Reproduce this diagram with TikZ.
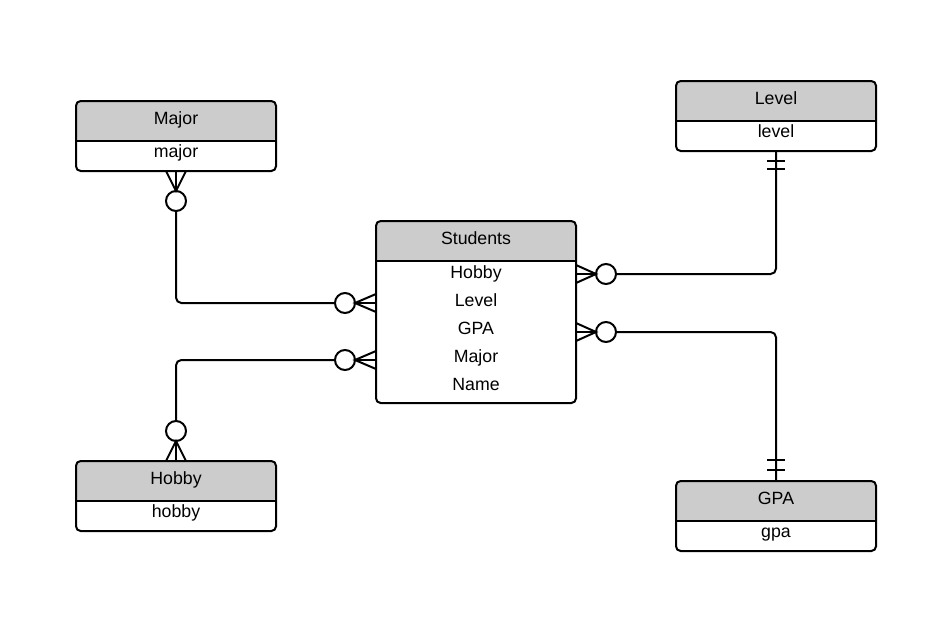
\documentclass[tikz,border=0pt]{standalone}
\usepackage{fontspec}
\setmainfont{Liberation Sans}
\usetikzlibrary{calc}
\definecolor{hdrgray}{HTML}{CCCCCC}
\tikzset{
  entity/.style={draw=black, line width=1.5pt, rounded corners=3.5pt,
    minimum width=150pt, inner sep=0pt, outer sep=0pt, fill=white,
    path picture={
      \fill[hdrgray] (path picture bounding box.north west) rectangle
        ([yshift=-30pt]path picture bounding box.north east);
      \draw[line width=1.5pt] ([yshift=-30pt]path picture bounding box.north west) --
        ([yshift=-30pt]path picture bounding box.north east);
    }},
  small/.style={entity, minimum height=52.5pt},
  txt/.style={anchor=base, inner sep=0pt, font=\fontsize{13.3}{15}\selectfont},
  rel/.style={draw=black, line width=1.5pt},
  circ/.style={circle, draw=black, line width=1.5pt, fill=white,
    minimum size=15pt, inner sep=0pt, outer sep=0pt},
}
\begin{document}
\begin{tikzpicture}[x=0.75pt, y=-0.75pt]
\useasboundingbox (0,0) rectangle (947,618);

% entities
\node[small] (major) at (176,136) {};
\node[txt] (major-title) at (176,124.5) {Major};
\node[txt] (major-attr) at (176,157.7) {major};

\node[small] (level) at (776,116) {};
\node[txt] (level-title) at (776,104.5) {Level};
\node[txt] (level-attr) at (776,137.7) {level};

\node[small] (hobby) at (176,496) {};
\node[txt] (hobby-title) at (176,484.5) {Hobby};
\node[txt] (hobby-attr) at (176,517.7) {hobby};

\node[small] (gpa) at (776,516) {};
\node[txt] (gpa-title) at (776,504.5) {GPA};
\node[txt] (gpa-attr) at (776,537.7) {gpa};

\node[entity, minimum height=136.5pt] (students) at (476,312) {};
\node[txt] (students-title) at (476,244.5) {Students};
\node[txt] (s-hobby) at (476,278.7) {Hobby};
\node[txt] (s-level) at (476,306.7) {Level};
\node[txt] (s-gpa) at (476,334.7) {GPA};
\node[txt] (s-major) at (476,362.7) {Major};
\node[txt] (s-name) at (476,390.7) {Name};

% optional-many ends
\node[circ] (mc) at (176,201) {};
\node[circ] (sc1) at (345,303) {};
\node[circ] (hc) at (176,431) {};
\node[circ] (sc2) at (345,360) {};
\node[circ] (lc) at (606,274) {};
\node[circ] (gc) at (606,332) {};

% Major -- Students
\draw[rel] ($(major.south)+(-10,0)$) -- (mc.north) -- ($(major.south)+(10,0)$);
\draw[rel] (major.south) -- (mc.north);
\draw[rel, rounded corners=4pt] (mc.south) |- (sc1.west);
\draw[rel] ($(students.west |- sc1)+(0,-9)$) -- (sc1.east) -- ($(students.west |- sc1)+(0,9)$);
\draw[rel] (students.west |- sc1) -- (sc1.east);

% Hobby -- Students
\draw[rel] ($(hobby.north)+(-10,0)$) -- (hc.south) -- ($(hobby.north)+(10,0)$);
\draw[rel] (hobby.north) -- (hc.south);
\draw[rel, rounded corners=4pt] (hc.north) |- (sc2.west);
\draw[rel] ($(students.west |- sc2)+(0,-9)$) -- (sc2.east) -- ($(students.west |- sc2)+(0,9)$);
\draw[rel] (students.west |- sc2) -- (sc2.east);

% Students -- Level
\draw[rel] ($(students.east |- lc)+(0,-9)$) -- (lc.west) -- ($(students.east |- lc)+(0,9)$);
\draw[rel] (students.east |- lc) -- (lc.west);
\draw[rel, rounded corners=4pt] (lc.east) -| (level.south);
\draw[rel] ($(level.south)+(-9,10)$) -- ++(18,0);
\draw[rel] ($(level.south)+(-9,18)$) -- ++(18,0);

% Students -- GPA
\draw[rel] ($(students.east |- gc)+(0,-9)$) -- (gc.west) -- ($(students.east |- gc)+(0,9)$);
\draw[rel] (students.east |- gc) -- (gc.west);
\draw[rel, rounded corners=4pt] (gc.east) -| (gpa.north);
\draw[rel] ($(gpa.north)+(-9,-11)$) -- ++(18,0);
\draw[rel] ($(gpa.north)+(-9,-21)$) -- ++(18,0);
\end{tikzpicture}
\end{document}
